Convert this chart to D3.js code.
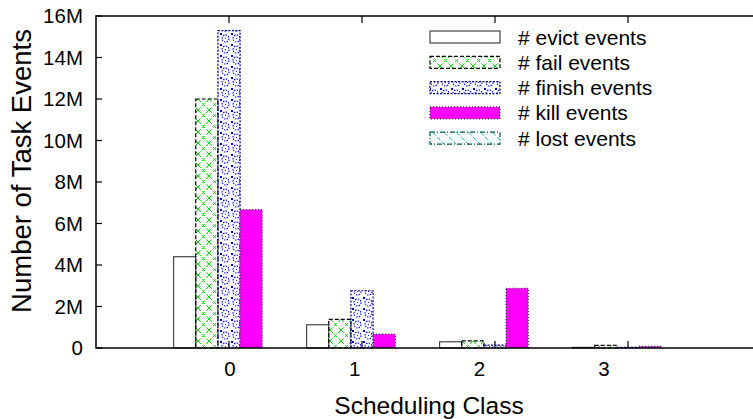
<!DOCTYPE html>
<html><head><meta charset="utf-8">
<script src="https://cdn.jsdelivr.net/npm/d3@7"></script>
<style>body{margin:0;background:#fff}svg{display:block}text{font-family:"Liberation Sans",Arial,sans-serif;fill:#000}</style>
</head><body><svg id="c" width="753" height="419"></svg>
<script>
const categories = ["0","1","2","3"];
const seriesNames = ["# evict events","# fail events","# finish events","# kill events","# lost events"];
const evict  = [4.40, 1.12, 0.30, 0.03];
const fail   = [12.0, 1.38, 0.34, 0.13];
const finish = [15.3, 2.76, 0.14, 0.03];
const kill   = [6.67, 0.67, 2.88, 0.08];
const lost   = [0, 0, 0, 0];
const yTicks = [0,2,4,6,8,10,12,14,16];
const yTickLabels = ["0","2M","4M","6M","8M","10M","12M","14M","16M"];
const series = [evict, fail, finish, kill, lost];

const svg = d3.select("#c");
const L=96, T=16, B=348, R=761;
const x = d3.scaleLinear().domain([-1,4]).range([L,R]);
const xLab = d3.scaleLinear().domain([0,3]).range([230,604]);
const y = d3.scaleLinear().domain([0,16]).range([B,T]);
const bw = 1/6;

const defs = svg.append("defs");
let p = defs.append("pattern").attr("id","pFail").attr("patternUnits","userSpaceOnUse").attr("width",11).attr("height",11);
p.append("path").attr("d","M0,0L11,11M11,0L0,11").attr("stroke","#00e000").attr("stroke-width",1).attr("stroke-dasharray","4,2");
p = defs.append("pattern").attr("id","pFinish").attr("patternUnits","userSpaceOnUse").attr("width",11).attr("height",11);
p.append("circle").attr("cx",5.5).attr("cy",5.5).attr("r",3.5).attr("fill","none").attr("stroke","#1010ff").attr("stroke-width",1.2).attr("stroke-dasharray","1.5,1.2");
p.append("rect").attr("x",0).attr("y",0).attr("width",2).attr("height",2).attr("fill","#0000cc");
p.append("rect").attr("x",5).attr("y",5).attr("width",1).attr("height",1).attr("fill","#2020ff");
p = defs.append("pattern").attr("id","pLost").attr("patternUnits","userSpaceOnUse").attr("width",12).attr("height",12);
p.append("path").attr("d","M0,0L12,12").attr("stroke","#00e0e0").attr("stroke-width",1).attr("stroke-dasharray","5,2");

const styles = [
  {fill:"#fff", stroke:"#444", dash:null},
  {fill:"url(#pFail)", stroke:"#000", dash:"4,2"},
  {fill:"url(#pFinish)", stroke:"#000080", dash:"2,1.5"},
  {fill:"#ff00ff", stroke:"#333", dash:"1,2"},
  {fill:"url(#pLost)", stroke:"#005050", dash:"5,2,1,2"}
];

series.forEach((vals,k)=>{
  svg.append("g").selectAll("rect").data(vals).join("rect")
    .attr("x",(d,i)=>x(i+(k-2.5)*bw))
    .attr("width",x(bw)-x(0))
    .attr("y",d=>y(d))
    .attr("height",d=>y(0)-y(d))
    .attr("fill",styles[k].fill)
    .attr("stroke",d=>d>0?styles[k].stroke:"none")
    .attr("stroke-width",1.2)
    .attr("stroke-dasharray",styles[k].dash);
});

svg.append("path").attr("d",`M${R},${T}H${L}V${B}H${R}`).attr("fill","none").attr("stroke","#000").attr("stroke-width",1.5);

const yg = svg.append("g");
yg.selectAll("line").data(yTicks).join("line")
  .attr("x1",L).attr("x2",L+6).attr("y1",d=>y(d)).attr("y2",d=>y(d)).attr("stroke","#000").attr("stroke-width",1.2);
yg.selectAll("text").data(yTicks).join("text")
  .attr("x",83).attr("y",d=>y(d)+7).attr("text-anchor","end").attr("font-size",20.5)
  .text((d,i)=>yTickLabels[i]);

const xg = svg.append("g");
xg.selectAll("line.b").data(categories).join("line").attr("class","b")
  .attr("x1",(d,i)=>x(i)).attr("x2",(d,i)=>x(i)).attr("y1",B).attr("y2",B-7).attr("stroke","#000").attr("stroke-width",1.2);
xg.selectAll("line.t").data(categories).join("line").attr("class","t")
  .attr("x1",(d,i)=>x(i)).attr("x2",(d,i)=>x(i)).attr("y1",T).attr("y2",T+7).attr("stroke","#000").attr("stroke-width",1.2);
xg.selectAll("text").data(categories).join("text")
  .attr("x",(d,i)=>xLab(i)).attr("y",376).attr("text-anchor","middle").attr("font-size",20.5).text(d=>d);

svg.append("text").attr("x",429).attr("y",414).attr("text-anchor","middle").attr("font-size",24.5).text("Scheduling Class");
svg.append("text").attr("transform","translate(31,171) rotate(-90)").attr("text-anchor","middle").attr("font-size",27.5).text("Number of Task Events");

const lg = svg.append("g");
seriesNames.forEach((n,k)=>{
  const cy = 37 + k*25.3;
  lg.append("rect").attr("x",430).attr("y",cy-6).attr("width",70).attr("height",12)
    .attr("fill",styles[k].fill).attr("stroke",styles[k].stroke).attr("stroke-width",1.2).attr("stroke-dasharray",styles[k].dash);
  lg.append("text").attr("x",518).attr("y",cy+7.5).attr("font-size",21).text(n);
});
</script></body></html>
